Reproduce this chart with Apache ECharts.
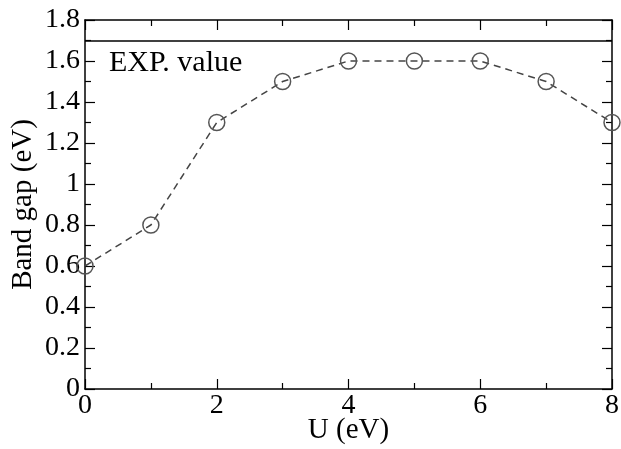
<!DOCTYPE html>
<html><head><meta charset="utf-8">
<script src="https://cdn.jsdelivr.net/npm/echarts@6/dist/echarts.min.js"></script>
<style>html,body{margin:0;padding:0;background:#fff}#c{width:621px;height:449px}</style>
</head><body><div id="c"></div>
<script>
var uValues = [0, 1, 2, 3, 4, 5, 6, 7, 8];
var bandGap = [0.6, 0.8, 1.3, 1.5, 1.6, 1.6, 1.6, 1.5, 1.3];
var expValue = 1.7;
var expLabel = 'EXP. value';
var xTitle = 'U (eV)';
var yTitle = 'Band gap (eV)';

var font = 'Liberation Serif';
var axisCommon = {
  axisLine: {show: true, onZero: false, lineStyle: {color: '#000', width: 1.5}},
  axisTick: {show: true, inside: true, length: 10, lineStyle: {color: '#000', width: 1.2}},
  minorTick: {show: true, splitNumber: 2, length: 6, lineStyle: {color: '#000', width: 1.2}},
  splitLine: {show: false}
};
function ax(extra) { return Object.assign({}, JSON.parse(JSON.stringify(axisCommon)), extra); }

var chart = echarts.init(document.getElementById('c'), null, {renderer: 'canvas'});
chart.setOption({
  animation: false,
  backgroundColor: '#fff',
  grid: {left: 85, right: 9, top: 20, bottom: 60, containLabel: false, outerBoundsMode: 'none'},
  title: {
    text: expLabel, left: 104, top: 43,
    textStyle: {fontFamily: font, fontSize: 30, fontWeight: 'normal', color: '#000'}
  },
  xAxis: [
    ax({type: 'value', min: 0, max: 8, interval: 2, position: 'bottom',
      name: xTitle, nameLocation: 'middle', nameGap: 27, nameMoveOverlap: false,
      nameTextStyle: {fontFamily: font, fontSize: 29, color: '#000'},
      axisLabel: {fontFamily: font, fontSize: 28, color: '#000', margin: 3}}),
    ax({type: 'value', min: 0, max: 8, interval: 2, position: 'top', axisLabel: {show: false}})
  ],
  yAxis: [
    ax({type: 'value', min: 0, max: 1.8, interval: 0.2, position: 'left',
      name: yTitle, nameLocation: 'middle', nameGap: 47, nameMoveOverlap: false,
      nameTextStyle: {fontFamily: font, fontSize: 29, color: '#000'},
      axisLabel: {fontFamily: font, fontSize: 28, color: '#000', margin: 5,
        formatter: function (v) { return String(Math.round(v * 10) / 10); }}}),
    ax({type: 'value', min: 0, max: 1.8, interval: 0.2, position: 'right', axisLabel: {show: false}})
  ],
  series: [{
    type: 'line',
    data: uValues.map(function (u, i) { return [u, bandGap[i]]; }),
    clip: false,
    symbol: 'circle',
    symbolSize: 16,
    itemStyle: {color: 'rgba(0,0,0,0)', borderColor: '#555', borderWidth: 1.5},
    lineStyle: {color: '#444', width: 1.5, type: [7, 5]},
    markLine: {
      silent: true, symbol: 'none',
      label: {show: false},
      lineStyle: {color: '#000', width: 1.5, type: 'solid'},
      data: [{yAxis: expValue}]
    },
    z: 3
  }]
});
</script></body></html>
